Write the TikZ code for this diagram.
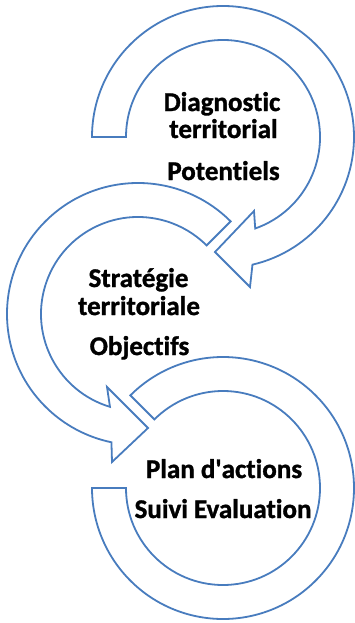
\documentclass[tikz,border=0pt]{standalone}
\usepackage{fontspec}
\setmainfont{Carlito}[Ligatures={NoCommon},BoldFeatures={FakeBold=1.2}]
\definecolor{ringblue}{RGB}{72,124,190}
\begin{document}
\begin{tikzpicture}[x=1pt,y=1pt,
  ring/.style={draw=ringblue,fill=white,line width=1.8pt,line join=miter},
  lbl/.style={anchor=base,inner sep=0pt,font=\fontsize{27}{30}\selectfont\bfseries,text=black}]
\useasboundingbox (0,0) rectangle (355,-623);
% shape 3 (bottom ring, no arrowhead)
\coordinate (c3) at (223,-488);
\draw[ring] ([shift={(135:131)}]c3) arc[start angle=135,end angle=-180,radius=131]
  -- ([shift={(180:97)}]c3) arc[start angle=-180,end angle=135,radius=97] -- cycle;
% shape 2 (middle, arrow to shape 3)
\coordinate (c2) at (138,-314);
\draw[ring] ([shift={(45:131)}]c2) arc[start angle=45,end angle=258.3,radius=131]
  -- (112,-462) -- (148,-428) -- (107,-387)
  -- ([shift={(253.2:97)}]c2) arc[start angle=253.2,end angle=45,radius=97] -- cycle;
% shape 1 (top, arrow to shape 2)
\coordinate (c1) at (223,-137);
\draw[ring] ([shift={(180:131)}]c1) arc[start angle=180,end angle=-77,radius=131]
  -- (250,-287) -- (215,-252) -- (254,-211)
  -- ([shift={(-70.6:97)}]c1) arc[start angle=-70.6,end angle=180,radius=97] -- cycle;
% labels
\node[lbl] (t1a) at (222,-111) {Diagnostic};
\node[lbl] (t1b) at (223.5,-138) {territorial};
\node[lbl] (t1c) at (223.5,-180) {Potentiels};
\node[lbl] (t2a) at (138.5,-287) {Stratégie};
\node[lbl] (t2b) at (139,-315) {territoriale};
\node[lbl] (t2c) at (139.5,-355) {Objectifs};
\node[lbl] (t3a) at (224,-478) {Plan d\textquotesingle actions};
\node[lbl] (t3b) at (223,-518) {Suivi Evaluation};
\end{tikzpicture}
\end{document}
